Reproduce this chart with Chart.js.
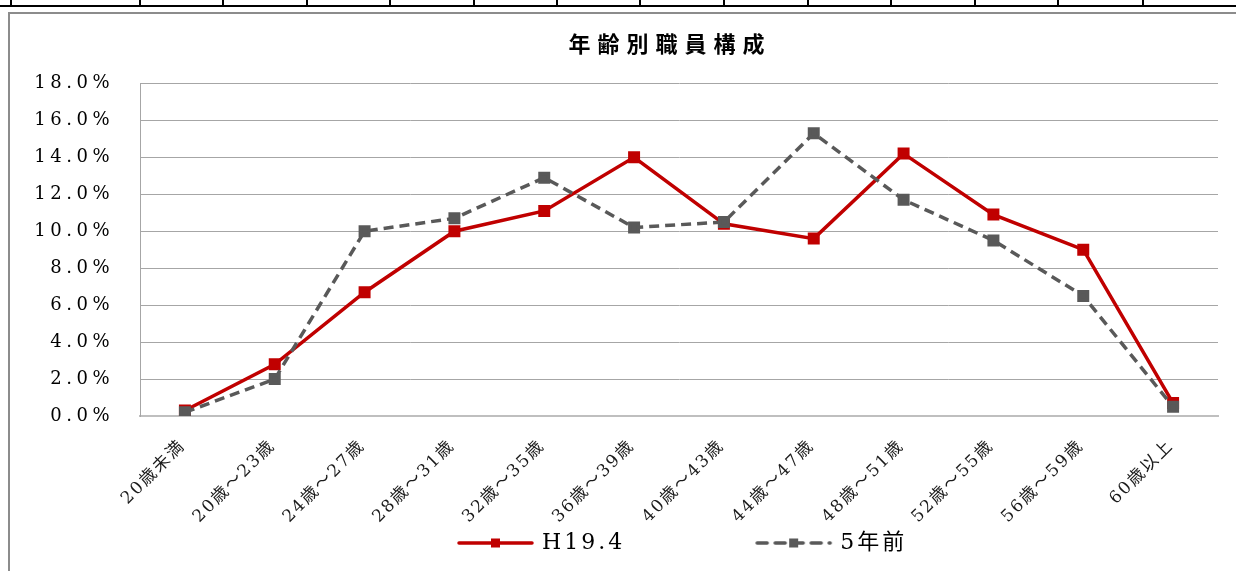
<!DOCTYPE html>
<html lang="ja">
<head>
<meta charset="utf-8">
<title>年齢別職員構成</title>
<script src="https://cdn.jsdelivr.net/npm/chart.js@4.4.1/dist/chart.umd.min.js"></script>
<style>
  html, body { margin: 0; padding: 0; background: #fff; }
  body { width: 1236px; height: 571px; position: relative; overflow: hidden; }
  .rule { position: absolute; left: 0; top: 5px; width: 1236px; height: 2px; background: #000; }
  .tick { position: absolute; top: 0; width: 2px; height: 6px; background: #000; }
  .frame { position: absolute; left: 8px; top: 12px; width: 1300px; height: 600px; border: 2px solid #8c8c8c; }
  .chart-box { position: absolute; left: 0; top: 0; width: 1236px; height: 571px; }
</style>
</head>
<body>
<div class="rule"></div>
<div class="tick" style="left:10px"></div>
<div class="tick" style="left:139px"></div>
<div class="tick" style="left:222px"></div>
<div class="tick" style="left:306px"></div>
<div class="tick" style="left:389px"></div>
<div class="tick" style="left:473px"></div>
<div class="tick" style="left:556px"></div>
<div class="tick" style="left:639px"></div>
<div class="tick" style="left:723px"></div>
<div class="tick" style="left:807px"></div>
<div class="tick" style="left:890px"></div>
<div class="tick" style="left:974px"></div>
<div class="tick" style="left:1057px"></div>
<div class="tick" style="left:1142px"></div>
<div class="frame"></div>
<div class="chart-box"><canvas id="ageChart"></canvas></div>
<script>
// 年齢区分
const ageGroups = ['20歳未満', '20歳～23歳', '24歳～27歳', '28歳～31歳', '32歳～35歳', '36歳～39歳',
  '40歳～43歳', '44歳～47歳', '48歳～51歳', '52歳～55歳', '56歳～59歳', '60歳以上'];
// 構成比 (%)
const h19Share = [0.3, 2.8, 6.7, 10.0, 11.1, 14.0, 10.4, 9.6, 14.2, 10.9, 9.0, 0.7];
const fiveYearsAgoShare = [0.2, 2.0, 10.0, 10.7, 12.9, 10.2, 10.5, 15.3, 11.7, 9.5, 6.5, 0.5];
const seriesNames = ['H19.4', '5年前'];
const yMax = 18;
const yStep = 2;

const RED = '#C00000';
const GRAY = '#595959';

// legend sample: line with a square marker, like Excel
function legendSample(color, dash) {
  const c = document.createElement('canvas');
  c.width = 202;
  c.height = 14;
  const g = c.getContext('2d');
  g.strokeStyle = color;
  g.lineWidth = 3.5;
  g.lineCap = 'round';
  g.setLineDash(dash);
  g.beginPath();
  g.moveTo(126, 7);
  g.lineTo(199, 7);
  g.stroke();
  g.fillStyle = color;
  g.fillRect(158, 2.5, 9, 9);
  return c;
}
const samples = [legendSample(RED, []), legendSample(GRAY, [10, 8])];

function addSpacing(obj, fn, px) {
  if (!obj || obj[fn]._spaced) return;
  const orig = obj[fn];
  const wrapped = function (...args) {
    const ctx = this.ctx;
    ctx.save();
    ctx.letterSpacing = px + 'px';
    const r = orig.apply(this, args);
    ctx.restore();
    return r;
  };
  wrapped._spaced = true;
  obj[fn] = wrapped;
}

const spacingPlugin = {
  id: 'spacing',
  afterInit(chart) {
    addSpacing(chart.titleBlock, 'draw', 7);
    addSpacing(chart.legend, 'fit', 3);
    addSpacing(chart.legend, 'draw', 3);
  },
  afterLayout(chart) {
    // title and legend are not centred on the canvas in the original
    const t = chart.titleBlock;
    t.left = 2 * 670 - t.right;
    const lg = chart.legend;
    lg.left = 2 * 337 - 10 - lg.right + lg.lineWidths[0];
    // let the rotated labels run past the axis box
    chart.scales.x._computeLabelArea = () => undefined;
    addSpacing(chart.scales.x, 'drawLabels', 2);
    addSpacing(chart.scales.y, 'drawLabels', 4.5);
  }
};

Chart.defaults.font.family = "'DejaVu Serif', 'Noto Sans CJK JP', serif";
Chart.defaults.color = '#000';

new Chart(document.getElementById('ageChart'), {
  type: 'line',
  data: {
    labels: ageGroups,
    datasets: [
      {
        label: seriesNames[0],
        data: h19Share,
        borderColor: RED,
        backgroundColor: RED,
        borderWidth: 3.5,
        pointStyle: 'rect',
        pointRadius: 6,
        pointHoverRadius: 6,
        order: 1
      },
      {
        label: seriesNames[1],
        data: fiveYearsAgoShare,
        borderColor: GRAY,
        backgroundColor: GRAY,
        borderWidth: 3.5,
        borderDash: [10, 6],
        pointStyle: 'rect',
        pointRadius: 6,
        pointHoverRadius: 6,
        order: 0
      }
    ]
  },
  options: {
    responsive: true,
    maintainAspectRatio: false,
    animation: false,
    devicePixelRatio: 1,
    layout: { padding: { left: 0, right: 18, top: 0, bottom: 7 } },
    plugins: {
      title: {
        display: true,
        text: '年齢別職員構成',
        color: '#000',
        font: { family: "'Noto Sans CJK JP', sans-serif", size: 22, weight: 'bold' },
        padding: { top: 30, bottom: 27 }
      },
      legend: {
        position: 'bottom',
        labels: {
          usePointStyle: true,
          pointStyleWidth: 194,
          padding: 10,
          color: '#000',
          font: { size: 22 },
          generateLabels(chart) {
            const items = Chart.defaults.plugins.legend.labels.generateLabels(chart);
            items.sort((a, b) => a.datasetIndex - b.datasetIndex);
            items.forEach(it => { it.pointStyle = samples[it.datasetIndex]; });
            return items;
          }
        }
      },
      tooltip: { enabled: false }
    },
    scales: {
      x: {
        offset: true,
        grid: { display: false },
        border: { display: true, color: '#bfbfbf', width: 2 },
        ticks: {
          maxRotation: 45,
          minRotation: 45,
          autoSkip: false,
          padding: 12,
          labelOffset: -2,
          color: '#1a1a1a',
          font: { size: 17 }
        },
        afterFit(scale) { scale.height = 106; }
      },
      y: {
        min: 0,
        max: yMax,
        grid: { color: '#a6a6a6', lineWidth: 1, drawTicks: false },
        border: { display: true, color: '#a6a6a6', width: 1 },
        ticks: {
          stepSize: yStep,
          padding: 26,
          color: '#000',
          font: { size: 18 },
          callback: v => v.toFixed(1) + '%'
        },
        afterFit(scale) { scale.width = 140; }
      }
    }
  },
  plugins: [spacingPlugin]
});
</script>
</body>
</html>
